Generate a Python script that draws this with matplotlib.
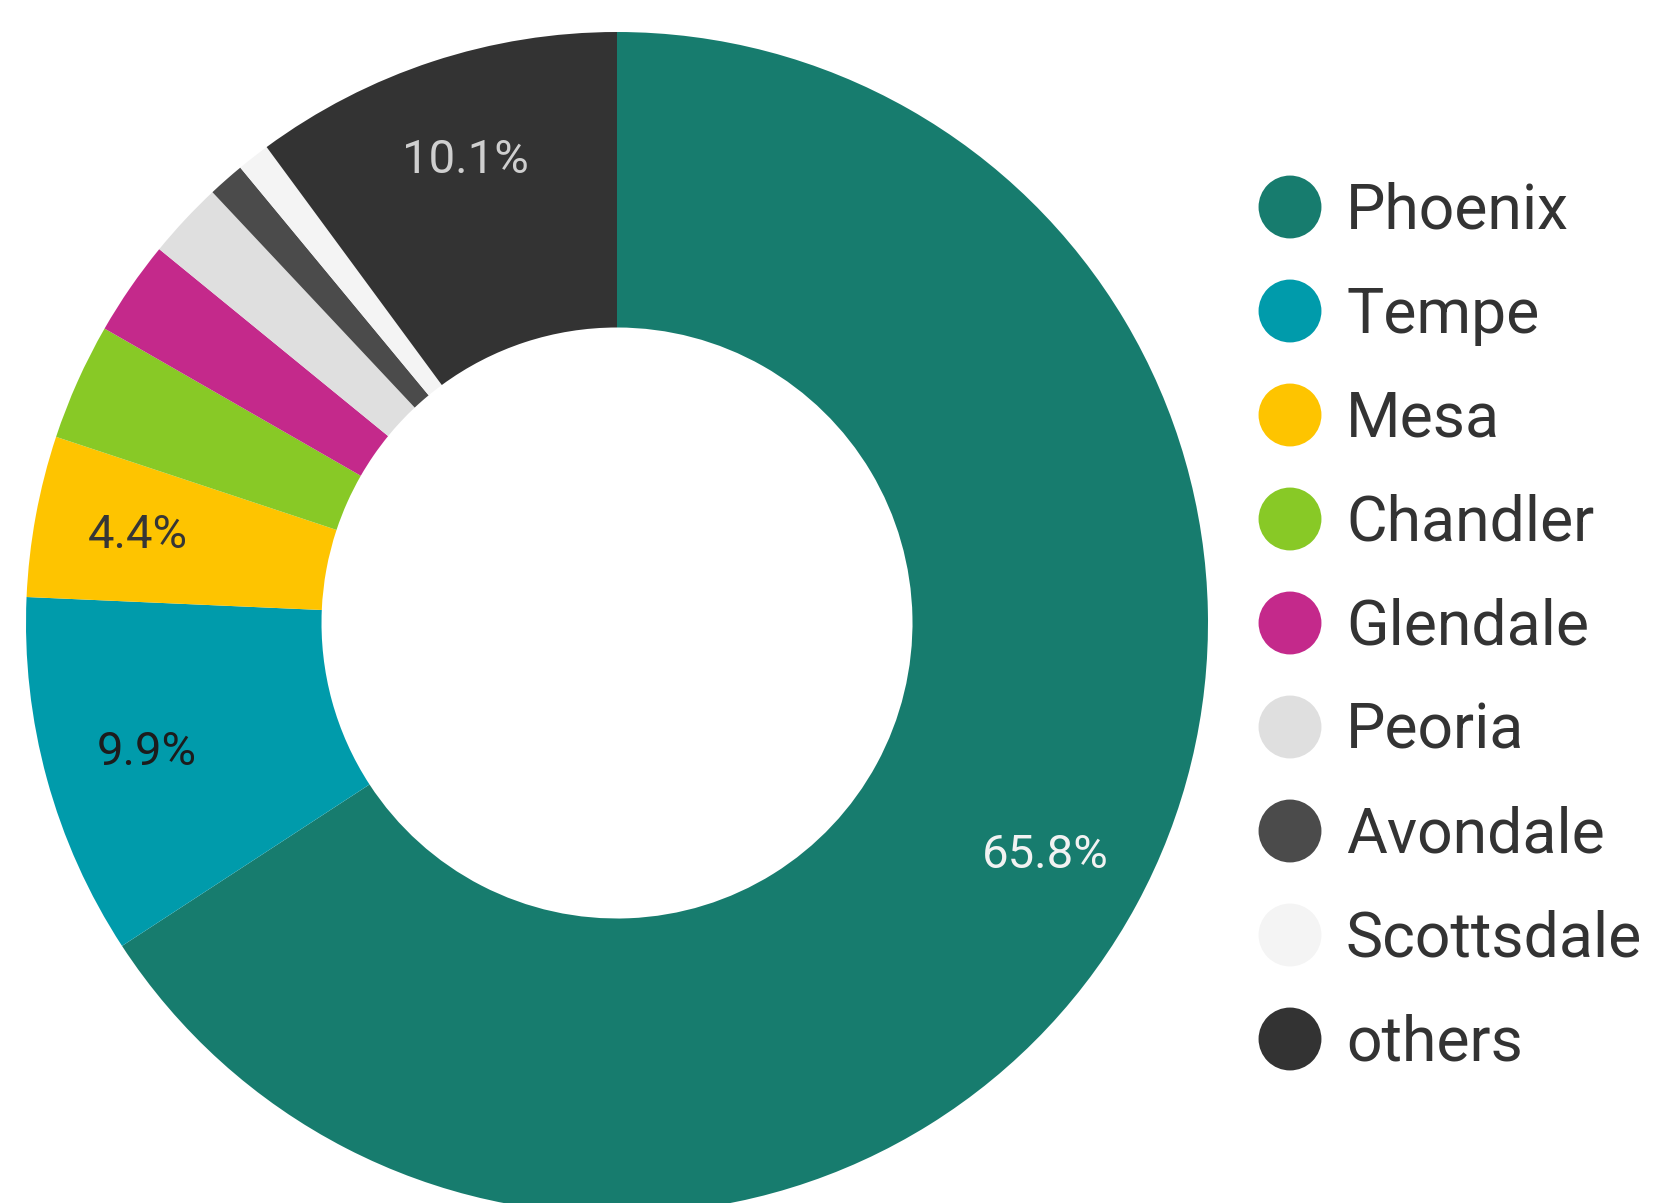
import matplotlib
matplotlib.use("Agg")
import matplotlib.pyplot as plt

plt.rcParams['font.family'] = ['Roboto', 'DejaVu Sans']

# Share of records by city (percent)
cities = ["Phoenix", "Tempe", "Mesa", "Chandler", "Glendale",
          "Peoria", "Avondale", "Scottsdale", "others"]
shares = [65.8, 9.9, 4.4, 3.2, 2.6, 2.1, 1.0, 0.9, 10.1]
colors = ["#177c6e", "#009bab", "#fec400", "#88c926", "#c4298b",
          "#dfdfdf", "#4b4b4b", "#f4f4f4", "#333333"]
label_colors = ["#f2f2f2", "#1c1c1c", "#363636", "#333333", "#333333",
                "#333333", "#333333", "#333333", "#cfcfcf"]

W, H = 1655, 1203
fig = plt.figure(figsize=(W / 100, H / 100), dpi=100)
fig.patch.set_facecolor("white")

# Donut axes: centre (617, 623) px, outer radius 591 px
cx, cy, R = 617, 623, 591
ax = fig.add_axes([(cx - R) / W, (H - cy - R) / H, 2 * R / W, 2 * R / H])

wedges, texts, autotexts = ax.pie(
    shares,
    colors=colors,
    startangle=90,
    counterclock=False,
    radius=1.0,
    wedgeprops=dict(width=0.5, linewidth=0),
    autopct=lambda p: f"{p:.1f}%" if p >= 4 else "",
    pctdistance=0.825,
    textprops=dict(fontsize=34),
)
ax.set_xlim(-1, 1)
ax.set_ylim(-1, 1)
ax.set_aspect("equal")
ax.axis("off")
for t, c in zip(autotexts, label_colors):
    t.set_color(c)
    t.set_va("center")
for w in wedges:
    w.set_clip_on(False)

# Legend drawn on an overlay in pixel coordinates
lax = fig.add_axes([0, 0, 1, 1])
lax.set_xlim(0, W)
lax.set_ylim(H, 0)
lax.axis("off")
lax.patch.set_alpha(0)

row0, step = 207, 104
for i, (name, col) in enumerate(zip(cities, colors)):
    y = row0 + i * step
    lax.scatter([1290], [y], s=2050, color=col, edgecolors="none", zorder=3)
    lax.text(1346, y + 21.5, name, fontsize=45, color="#333333",
             ha="left", va="baseline")

fig.savefig("out.png", dpi=100)
